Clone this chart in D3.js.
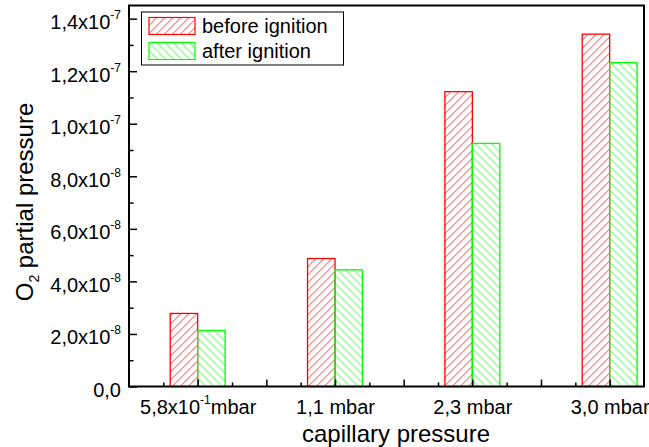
<!DOCTYPE html>
<html>
<head>
<meta charset="utf-8">
<script src="https://cdn.jsdelivr.net/npm/d3@7"></script>
<style>
  body { margin: 0; background: #fff; }
  svg { display: block; }
  svg text { font-family: "Liberation Sans", Arial, sans-serif; }
</style>
</head>
<body>
<script>
// values
var categories = [1, 2, 3, 4];
var categoryLabels = ["5,8x10^-1^mbar", "1,1 mbar", "2,3 mbar", "3,0 mbar"];
var beforeIgnition = [2.78e-8, 4.87e-8, 1.122e-7, 1.341e-7];
var afterIgnition = [2.13e-8, 4.44e-8, 0.925e-7, 1.233e-7];
var yTicks = [0, 2e-8, 4e-8, 6e-8, 8e-8, 1e-7, 1.2e-7, 1.4e-7];
var yTickLabels = ["0,0", "2,0x10^-8", "4,0x10^-8", "6,0x10^-8", "8,0x10^-8", "1,0x10^-7", "1,2x10^-7", "1,4x10^-7"];
var seriesNames = ["before ignition", "after ignition"];

var W = 649, H = 447;
var margin = { top: 5.5, right: 5, bottom: 60.5, left: 129 };
var width = W - margin.left - margin.right;
var height = H - margin.top - margin.bottom;

var svg = d3.select("body").append("svg")
  .attr("width", W)
  .attr("height", H);

// hatch patterns
var defs = svg.append("defs");
function hatch(id, color, dir) {
  var p = defs.append("pattern")
    .attr("id", id)
    .attr("patternUnits", "userSpaceOnUse")
    .attr("width", 8)
    .attr("height", 8);
  var d = dir > 0
    ? "M-2,2 L2,-2 M0,8 L8,0 M6,10 L10,6"
    : "M-2,6 L2,10 M0,0 L8,8 M6,-2 L10,2";
  p.append("path")
    .attr("d", d)
    .attr("stroke", color)
    .attr("stroke-width", 0.9)
    .attr("stroke-opacity", 0.85);
}
hatch("hatchRed", "#ff0000", 1);
hatch("hatchGreen", "#00ff00", -1);

var g = svg.append("g")
  .attr("transform", `translate(${margin.left},${margin.top})`);

var x = d3.scaleLinear().domain([0.5, 4.25]).range([0, width]);
var y = d3.scaleLinear().domain([0, 1.45e-7]).range([height, 0]);
var barW = 0.2;

// write "a^b^c" as text with a superscript
function supText(sel, str) {
  var parts = str.split("^");
  sel.text(null);
  sel.append("tspan").text(parts[0]);
  if (parts.length > 1) {
    sel.append("tspan").attr("dy", -10).style("font-size", "12px").text(parts[1]);
    if (parts[2]) sel.append("tspan").attr("dy", 10).text(parts[2]);
  }
}

// bars
g.selectAll(".before")
  .data(categories)
  .enter().append("rect")
  .attr("class", "before")
  .attr("x", (d, i) => x(d - barW))
  .attr("y", (d, i) => y(beforeIgnition[i]))
  .attr("width", x(1) - x(1 - barW))
  .attr("height", (d, i) => y(0) - y(beforeIgnition[i]))
  .attr("fill", "url(#hatchRed)")
  .attr("stroke", "#ff0000")
  .attr("stroke-width", 1.3);

g.selectAll(".after")
  .data(categories)
  .enter().append("rect")
  .attr("class", "after")
  .attr("x", (d, i) => x(d))
  .attr("y", (d, i) => y(afterIgnition[i]))
  .attr("width", x(1 + barW) - x(1))
  .attr("height", (d, i) => y(0) - y(afterIgnition[i]))
  .attr("fill", "url(#hatchGreen)")
  .attr("stroke", "#00ff00")
  .attr("stroke-width", 1.3);

// y axis
var yMinor = d3.range(1e-8, 1.45e-7, 2e-8);
g.append("g")
  .call(d3.axisLeft(y).tickValues(yMinor).tickSize(-4.5).tickFormat(""))
  .call(a => a.select(".domain").remove())
  .selectAll("line").attr("stroke-width", 1.5);

var yAxis = g.append("g")
  .call(d3.axisLeft(y).tickValues(yTicks).tickSize(-8).tickPadding(8));
yAxis.select(".domain").remove();
yAxis.selectAll("line").attr("stroke-width", 1.5);
yAxis.selectAll("text")
  .style("font-size", "20px")
  .attr("fill", "#000")
  .attr("dy", null)
  .attr("y", 10)
  .each(function(d, i) { supText(d3.select(this), yTickLabels[i]); });

// x axis
var xMinor = [0.75, 1.25, 1.75, 2.25, 2.75, 3.25, 3.75];
var xMajor = [1, 1.5, 2, 2.5, 3, 3.5, 4];
g.append("g")
  .attr("transform", `translate(0,${height})`)
  .call(d3.axisBottom(x).tickValues(xMinor).tickSize(-4).tickFormat(""))
  .call(a => a.select(".domain").remove())
  .selectAll("line").attr("stroke-width", 1.5);

var xAxis = g.append("g")
  .attr("transform", `translate(0,${height})`)
  .call(d3.axisBottom(x).tickValues(xMajor).tickSize(-7)
    .tickFormat(d => { var k = categories.indexOf(d); return k < 0 ? "" : categoryLabels[k]; }));
xAxis.select(".domain").remove();
xAxis.selectAll("line").attr("stroke-width", 1.5);
xAxis.selectAll("text")
  .style("font-size", "20px")
  .attr("fill", "#000")
  .attr("dy", null)
  .attr("y", 27)
  .each(function(d) {
    var k = categories.indexOf(d);
    if (k >= 0) supText(d3.select(this), categoryLabels[k]);
  });

// frame
g.append("rect")
  .attr("width", width)
  .attr("height", height)
  .attr("fill", "none")
  .attr("stroke", "#000")
  .attr("stroke-width", 2);

// axis titles
svg.append("text")
  .attr("x", 396)
  .attr("y", 441.5)
  .attr("text-anchor", "middle")
  .style("font-size", "24px")
  .text("capillary pressure");

var yt = svg.append("text")
  .attr("transform", "translate(33,202) rotate(-90)")
  .attr("text-anchor", "middle")
  .style("font-size", "24px");
yt.append("tspan").text("O");
yt.append("tspan").attr("dy", 6).style("font-size", "14px").text("2");
yt.append("tspan").attr("dy", -6).text(" partial pressure");

// legend
var legend = svg.append("g");
legend.append("rect")
  .attr("x", 141.5).attr("y", 12)
  .attr("width", 202).attr("height", 53)
  .attr("fill", "#fff")
  .attr("stroke", "#000")
  .attr("stroke-width", 1);

var legFill = ["url(#hatchRed)", "url(#hatchGreen)"];
var legStroke = ["#ff0000", "#00ff00"];
var legItem = legend.selectAll(".item")
  .data(seriesNames)
  .enter().append("g")
  .attr("transform", (d, i) => `translate(149,${17.5 + i * 25})`);
legItem.append("rect")
  .attr("width", 46)
  .attr("height", 17)
  .attr("fill", (d, i) => legFill[i])
  .attr("stroke", (d, i) => legStroke[i])
  .attr("stroke-width", 1.2);
legItem.append("text")
  .attr("x", 53)
  .attr("y", 15)
  .style("font-size", "20px")
  .text(d => d);
</script>
</body>
</html>
